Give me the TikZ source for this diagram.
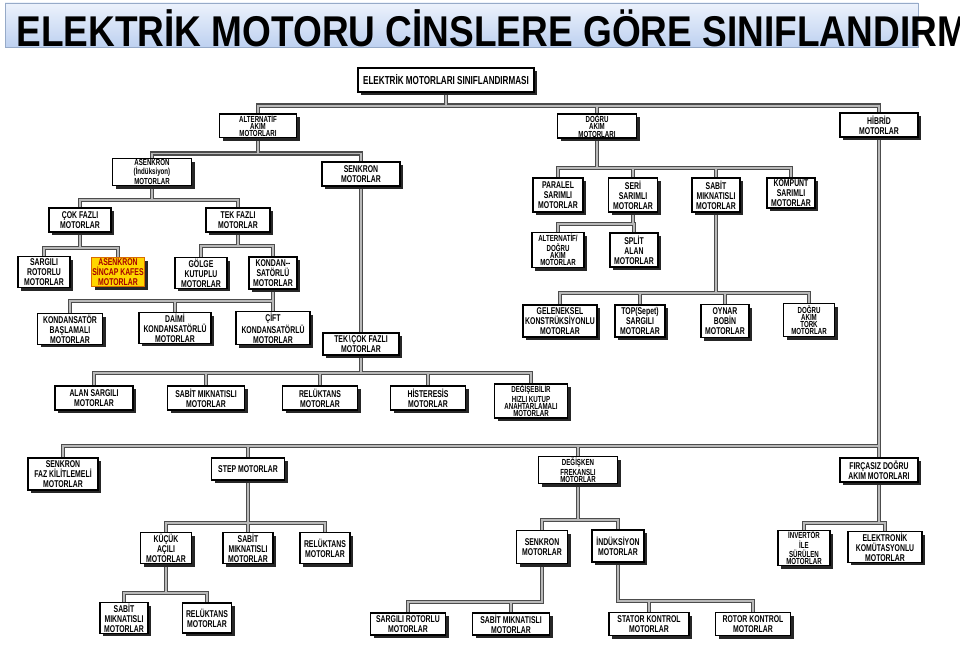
\documentclass[tikz,border=0pt]{standalone}
\usepackage{fontspec}
\newfontfamily\boxfont[FakeStretch=0.7]{Liberation Sans}
\newfontfamily\titlefont[FakeStretch=0.86]{Liberation Sans}
\usetikzlibrary{shadows,backgrounds}
\begin{document}
\begin{tikzpicture}[x=0.02cm, y=-0.02cm,
    box/.style={draw=black, line width=0.7pt, fill=white, align=center,
      inner sep=0.5pt, font=\boxfont\bfseries\fontsize{5.6}{5.7}\selectfont,
      drop shadow={shadow xshift=1.9pt, shadow yshift=-1.9pt,
        fill=black!85, opacity=1}},
    tight/.style={font=\boxfont\bfseries\fontsize{5.0}{4.1}\selectfont},
    sz/.style 2 args={minimum width=#1*0.02cm, minimum height=#2*0.02cm},
    hilite/.style={fill={rgb,255:red,255;green,214;blue,0},
      draw=orange!85!black, text=red!65!black},
    wireo/.style={draw=black!70, line width=2.4pt},
    wirei/.style={draw=gray!55, line width=1.1pt},
  ]
  \useasboundingbox (0,0) rectangle (960,661);

  % title bar
  \node[sz={913}{44}, inner sep=0pt, draw={rgb,255:red,150;green,170;blue,200},
    top color={rgb,255:red,236;green,242;blue,252},
    bottom color={rgb,255:red,190;green,209;blue,240}] (titlebar) at (461.5,25) {};
  \node[anchor=west, inner sep=0pt,
    font=\titlefont\bfseries\fontsize{24.5}{28}\selectfont] (title) at (16,28)
    {ELEKTRİK MOTORU CİNSLERE GÖRE SINIFLANDIRM};

  % root
  \node[box, sz={176}{24}, font=\boxfont\bfseries\fontsize{6.6}{8}\selectfont]
    (root) at (446,80) {ELEKTRİK MOTORLARI SINIFLANDIRMASI};
  \node[box, tight, sz={77}{22}] (alt) at (258,126) {ALTERNATİF\\AKIM\\MOTORLARI};
  \node[box, tight, sz={79}{23}] (dc) at (597,126) {DOĞRU\\AKIM\\MOTORLARI};
  \node[box, sz={78}{24}] (hibrid) at (879,125) {HİBRİD\\MOTORLAR};

  % AC branch
  \node[box, tight, sz={79}{22}] (asenk) at (152,172) {ASENKRON\\(İndüksiyon)\\MOTORLAR};
  \node[box, sz={78}{24}] (senac) at (361,174) {SENKRON\\MOTORLAR};
  \node[box, sz={62}{24}] (cokf) at (80,220) {ÇOK FAZLI\\MOTORLAR};
  \node[box, sz={64}{24}] (tekf) at (238,220) {TEK FAZLI\\MOTORLAR};
  \node[box, sz={52}{31}] (sargrot) at (44,272) {SARGILI\\ROTORLU\\MOTORLAR};
  \node[box, hilite, sz={50}{29}] (sincap) at (118,272) {ASENKRON\\SİNCAP KAFES\\MOTORLAR};
  \node[box, sz={52}{30}] (golge) at (201,273) {GÖLGE\\KUTUPLU\\MOTORLAR};
  \node[box, sz={48}{32}] (kondan) at (273,273) {KONDAN--\\SATÖRLÜ\\MOTORLAR};
  \node[box, sz={65}{28}] (kbasla) at (70,329) {KONDANSATÖR\\BAŞLAMALI\\MOTORLAR};
  \node[box, sz={72}{30}] (daimi) at (175,328) {DAİMİ\\KONDANSATÖRLÜ\\MOTORLAR};
  \node[box, sz={74}{30}] (cift) at (273,328) {ÇİFT\\KONDANSATÖRLÜ\\MOTORLAR};
  \node[box, sz={76}{22}] (tekcok) at (361,344)
    {TEK\kern0.4pt\textbackslash\kern0.4pt ÇOK FAZLI\\MOTORLAR};
  \node[box, sz={78}{24}] (alan) at (94,398) {ALAN SARGILI\\MOTORLAR};
  \node[box, sz={77}{24}] (sabac) at (206,398) {SABİT MIKNATISLI\\MOTORLAR};
  \node[box, sz={75}{24}] (relac) at (320,398) {RELÜKTANS\\MOTORLAR};
  \node[box, sz={75}{24}] (hist) at (428,398) {HİSTERESİS\\MOTORLAR};
  \node[box, tight, sz={73}{34}] (degis) at (531,401)
    {DEĞİŞEBİLİR\\HIZLI KUTUP\\ANAHTARLAMALI\\MOTORLAR};

  % DC branch
  \node[box, sz={50}{34}] (paralel) at (558,195) {PARALEL\\SARIMLI\\MOTORLAR};
  \node[box, sz={49}{34}] (seri) at (633,195) {SERİ\\SARIMLI\\MOTORLAR};
  \node[box, sz={48}{34}] (sabdc) at (716,195) {SABİT\\MIKNATISLI\\MOTORLAR};
  \node[box, sz={48}{30}] (kompunt) at (791,193) {KOMPUNT\\SARIMLI\\MOTORLAR};
  \node[box, tight, sz={52}{35}] (altdc) at (558,250) {ALTERNATİF/\\DOĞRU\\AKIM\\MOTORLAR};
  \node[box, sz={48}{34}] (split) at (634,250) {SPLİT\\ALAN\\MOTORLAR};
  \node[box, sz={74}{32}] (gelen) at (560,321) {GELENEKSEL\\KONSTRÜKSİYONLU\\MOTORLAR};
  \node[box, sz={50}{32}] (topsep) at (640,321) {TOP(Sepet)\\SARGILI\\MOTORLAR};
  \node[box, sz={48}{33}] (oynar) at (725,321) {OYNAR\\BOBİN\\MOTORLAR};
  \node[box, tight, sz={51}{33}] (tork) at (809,320) {DOĞRU\\AKIM\\TORK\\MOTORLAR};

  % hybrid branch
  \node[box, sz={70}{32}] (senfaz) at (63,474) {SENKRON\\FAZ KİLİTLEMELİ\\MOTORLAR};
  \node[box, sz={73}{22}] (stepm) at (248,469) {STEP MOTORLAR};
  \node[box, sz={51}{31}] (kucuk) at (166,548) {KÜÇÜK\\AÇILI\\MOTORLAR};
  \node[box, sz={50}{31}] (sabst) at (248,548) {SABİT\\MIKNATISLI\\MOTORLAR};
  \node[box, sz={50}{31}] (relst) at (325,548) {RELÜKTANS\\MOTORLAR};
  \node[box, sz={48}{30}] (sabku) at (124,618) {SABİT\\MIKNATISLI\\MOTORLAR};
  \node[box, sz={49}{30}] (relku) at (207,618) {RELÜKTANS\\MOTORLAR};
  \node[box, tight, sz={79}{24}] (degfr) at (578,470) {DEĞİŞKEN\\FREKANSLI\\MOTORLAR};
  \node[box, sz={51}{33}] (senvf) at (542,547) {SENKRON\\MOTORLAR};
  \node[box, sz={52}{32}] (indvf) at (618,546) {İNDÜKSİYON\\MOTORLAR};
  \node[box, sz={75}{22}] (sargvf) at (408,624) {SARGILI ROTORLU\\MOTORLAR};
  \node[box, sz={77}{22}] (sabvf) at (511,624) {SABİT MIKNATISLI\\MOTORLAR};
  \node[box, sz={80}{23}] (stator) at (649,624) {STATOR KONTROL\\MOTORLAR};
  \node[box, sz={75}{23}] (rotor) at (753,624) {ROTOR KONTROL\\MOTORLAR};
  \node[box, sz={78}{24}] (fircasiz) at (879,470) {FIRÇASIZ DOĞRU\\AKIM MOTORLARI};
  \node[box, tight, sz={52}{31}] (invert) at (804,548) {İNVERTÖR\\İLE\\SÜRÜLEN\\MOTORLAR};
  \node[box, sz={74}{30}] (elektr) at (885,547) {ELEKTRONİK\\KOMÜTASYONLU\\MOTORLAR};

  % connectors: dark pass first, grey core second
  \begin{scope}[on background layer]
    \foreach \w in {wireo, wirei}
      \foreach \p/\c/\d in {root/alt/13, root/dc/13, root/hibrid/13,
          alt/asenk/15, alt/senac/15, asenk/cokf/14, asenk/tekf/14,
          cokf/sargrot/15, cokf/sincap/15, tekf/golge/13, tekf/kondan/13,
          kondan/kbasla/11, kondan/daimi/11, kondan/cift/11, senac/tekcok/10,
          tekcok/alan/17, tekcok/sabac/17, tekcok/relac/17, tekcok/hist/17,
          tekcok/degis/17,
          dc/paralel/29, dc/seri/29, dc/sabdc/29, dc/kompunt/29,
          seri/altdc/11, seri/split/11,
          sabdc/gelen/80, sabdc/topsep/80, sabdc/oynar/80, sabdc/tork/80,
          hibrid/senfaz/308, hibrid/stepm/308, hibrid/degfr/308,
          hibrid/fircasiz/308,
          stepm/kucuk/42, stepm/sabst/42, stepm/relst/42,
          kucuk/sabku/29, kucuk/relku/29, degfr/senvf/36, degfr/indvf/36,
          senvf/sargvf/38, senvf/sabvf/38, indvf/stator/38, indvf/rotor/38,
          fircasiz/invert/40, fircasiz/elektr/40}
        \draw[\w] (\p.south) -- ++(0,\d) -| (\c.north);
  \end{scope}
\end{tikzpicture}
\end{document}
